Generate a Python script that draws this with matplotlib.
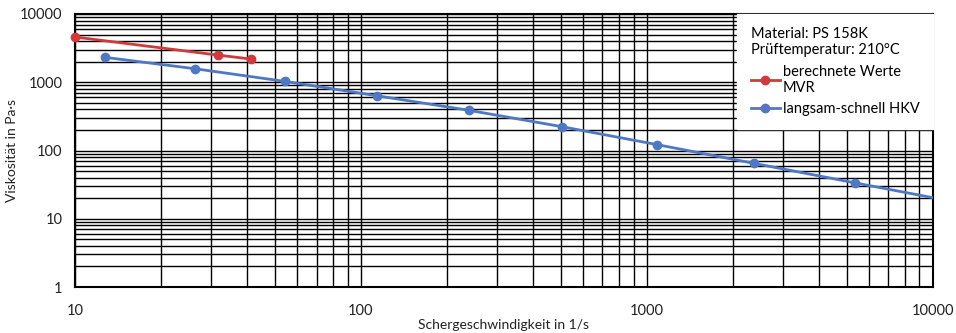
import matplotlib
matplotlib.use("Agg")
import matplotlib.pyplot as plt
from matplotlib.ticker import LogLocator, FixedLocator, FixedFormatter, NullFormatter

plt.rcParams['font.family'] = ['Lato', 'DejaVu Sans']

# Berechnete Werte aus MVR
mvr_rate = [10.0, 31.6, 41.2]
mvr_visc = [4600, 2500, 2190]

# Messung langsam-schnell am Hochdruckkapillarviskosimeter
hkv_rate = [12.7, 26.2, 54.2, 113.5, 239, 506, 1087, 2371, 5333]
hkv_visc = [2320, 1580, 1030, 635, 388, 223, 122, 64.9, 33.7]

# Verlängerung der HKV-Kurve bis zum Rand
hkv_ext_rate = [5333, 10000]
hkv_ext_visc = [33.7, 20.4]

x_ticks = [10, 100, 1000, 10000]
x_labels = ["10", "100", "1000", "10000"]
y_ticks = [1, 10, 100, 1000, 10000]
y_labels = ["1", "10", "100", "1000", "10000"]

red = "#D03A3C"
blue = "#4F78C4"

fig = plt.figure(figsize=(9.56, 3.33), dpi=100)
ax = fig.add_axes([0.0785, 0.138, 0.897, 0.82])

ax.set_xscale("log")
ax.set_yscale("log")
ax.set_xlim(10, 10000)
ax.set_ylim(1, 10000)

ax.plot(mvr_rate, mvr_visc, color=red, lw=2, marker="o", ms=6,
        label="berechnete Werte\nMVR", zorder=4, clip_on=False)
ax.plot(hkv_rate, hkv_visc, color=blue, lw=2, marker="o", ms=6,
        label="langsam-schnell HKV", zorder=4)
ax.plot(hkv_ext_rate, hkv_ext_visc, color=blue, lw=2, zorder=4)

ax.xaxis.set_major_locator(FixedLocator(x_ticks))
ax.xaxis.set_major_formatter(FixedFormatter(x_labels))
ax.yaxis.set_major_locator(FixedLocator(y_ticks))
ax.yaxis.set_major_formatter(FixedFormatter(y_labels))
ax.xaxis.set_minor_locator(LogLocator(base=10, subs=range(2, 10)))
ax.yaxis.set_minor_locator(LogLocator(base=10, subs=range(2, 10)))
ax.xaxis.set_minor_formatter(NullFormatter())
ax.yaxis.set_minor_formatter(NullFormatter())

ax.grid(which="both", color="black", lw=1.0)
ax.set_axisbelow(True)
ax.tick_params(which="both", length=0, labelsize=10.5, colors="#222222")
ax.tick_params(axis="x", pad=12)
ax.tick_params(axis="y", pad=9)
for s in ax.spines.values():
    s.set_color("black")
    s.set_linewidth(1.5)

ax.set_xlabel("Schergeschwindigkeit in 1/s", fontsize=10, color="#222222")
ax.xaxis.set_label_coords(0.5, -0.117)
ax.set_ylabel("Viskosität in Pa·s", fontsize=10, color="#222222")
ax.yaxis.set_label_coords(-0.066, 0.5)

leg = ax.legend(loc="upper right", title="Material: PS 158K\nPrüftemperatur: 210°C",
                alignment="left", fontsize=10.5, title_fontsize=10.5, frameon=True,
                fancybox=False, edgecolor="white", framealpha=1,
                handlelength=2.0, handletextpad=0.2, borderpad=0.9,
                labelspacing=0.5, borderaxespad=0.0)
leg.set_zorder(5)

fig.savefig("out.png", dpi=100)
